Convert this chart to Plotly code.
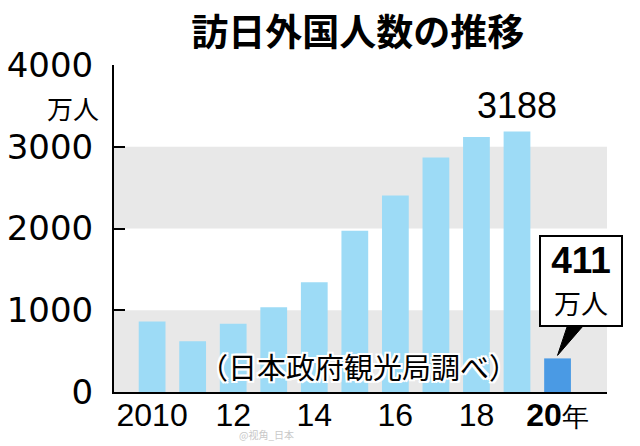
import plotly.graph_objects as go

# ---- data ----
years = [2010, 2011, 2012, 2013, 2014, 2015, 2016, 2017, 2018, 2019, 2020]
visitors = [861, 622, 836, 1036, 1341, 1974, 2404, 2869, 3119, 3188, 411]  # 万人
x_tick_years = [2010, 2012, 2014, 2016, 2018, 2020]
x_tick_labels = ["2010", "12", "14", "16", "18",
                 "<b>20</b><span style='font-size:27px'>年</span>"]
y_tick_values = [0, 1000, 2000, 3000, 4000]
y_tick_labels = ["0", "1000", "2000", "3000", "4000"]
band_ranges = [(0, 1000), (2000, 3000)]
title_text = "訪日外国人数の推移"
unit_text = "万人"
source_text = "（日本政府観光局調べ）"
peak_year = 2019
peak_label = "3188"
callout_label = "411"
watermark_text = "@视角_日本"

# ---- styles ----
LIGHT = "#9ddbf6"
DARK = "#4a9ae4"
BAND = "#e8e8e8"
JP = "Noto Sans CJK JP"

bar_colors = [LIGHT] * (len(years) - 1) + [DARK]

fig = go.Figure()
fig.add_trace(go.Bar(x=years, y=visitors, marker=dict(color=bar_colors, line=dict(width=0)),
                     width=0.66, hoverinfo="skip"))

for lo, hi in band_ranges:
    fig.add_shape(type="rect", xref="paper", yref="y", x0=0, x1=1, y0=lo, y1=hi,
                  fillcolor=BAND, line=dict(width=0), layer="below")

# callout pointer (pixel offsets relative to the 2020 bar top)
fig.add_shape(type="path", xref="x", yref="y", xsizemode="pixel", ysizemode="pixel",
              xanchor=years[-1], yanchor=visitors[-1],
              path="M 0,3 L 10,33 L 26,33 Z",
              fillcolor="black", line=dict(color="black", width=1), layer="above")

# callout box
fig.add_annotation(x=years[-1], y=visitors[-1], xref="x", yref="y",
                   xanchor="center", yanchor="bottom", xshift=23.5, yshift=31,
                   text=f"<span style='font-size:37px'><b>{callout_label}</b></span><br>"
                        f"<span style='font-size:27px;font-family:{JP}'>万人</span>",
                   showarrow=False, font=dict(family="Liberation Sans", size=32, color="black"),
                   bgcolor="white", bordercolor="black", borderwidth=2, borderpad=0,
                   width=80, height=88, align="center", valign="middle")

# peak label
peak_idx = years.index(peak_year)
fig.add_annotation(x=peak_year, y=visitors[peak_idx], xref="x", yref="y",
                   yanchor="bottom", yshift=3, text=peak_label, showarrow=False,
                   font=dict(family="Liberation Sans", size=36, color="black"))

# unit label under 4000
fig.add_annotation(x=0, y=y_tick_values[-1], xref="paper", yref="y",
                   xanchor="right", yanchor="middle", xshift=-13, yshift=-42,
                   text=unit_text, showarrow=False,
                   font=dict(family=JP, size=26, color="black"))

# source note with white halo
halo = ", ".join(f"{dx}px {dy}px 0 #fff" for dx in (-2, 0, 2) for dy in (-2, 0, 2))
fig.add_annotation(x=0.496, y=0.08, xref="paper", yref="paper",
                   xanchor="center", yanchor="middle", text=source_text, showarrow=False,
                   font=dict(family=JP, size=29, color="black", shadow=halo))

# watermark
fig.add_annotation(x=0.31, y=-0.13, xref="paper", yref="paper",
                   xanchor="center", yanchor="middle", text=watermark_text, showarrow=False,
                   font=dict(family=JP, size=10, color="#c8c8c8"))

fig.update_layout(
    width=640, height=446, autosize=False,
    margin=dict(l=114, r=33, t=65, b=54),
    paper_bgcolor="white", plot_bgcolor="white",
    showlegend=False, bargap=0.34,
    title=dict(text=title_text, x=0.559, xanchor="center", y=1 - 33 / 446, yanchor="middle",
               xref="container", yref="container", automargin=False,
               font=dict(family=JP, size=37, color="black", weight="bold")),
)
fig.update_xaxes(range=[2009.06, 2021.22], tickvals=x_tick_years, ticktext=x_tick_labels,
                 showline=True, linecolor="black", linewidth=2, ticks="", showgrid=False,
                 zeroline=False, tickfont=dict(family="Liberation Sans", size=32, color="black"),
                 ticklabelstandoff=-6, automargin=False)
fig.update_yaxes(range=[0, 4000], tickvals=y_tick_values, ticktext=y_tick_labels,
                 showline=True, linecolor="black", linewidth=2, ticks="inside", ticklen=11,
                 tickwidth=2, tickcolor="black", showgrid=False, zeroline=False,
                 tickfont=dict(family="DejaVu Sans", size=34, color="black"),
                 ticklabelstandoff=12, automargin=False)

fig.write_html("out.html")
